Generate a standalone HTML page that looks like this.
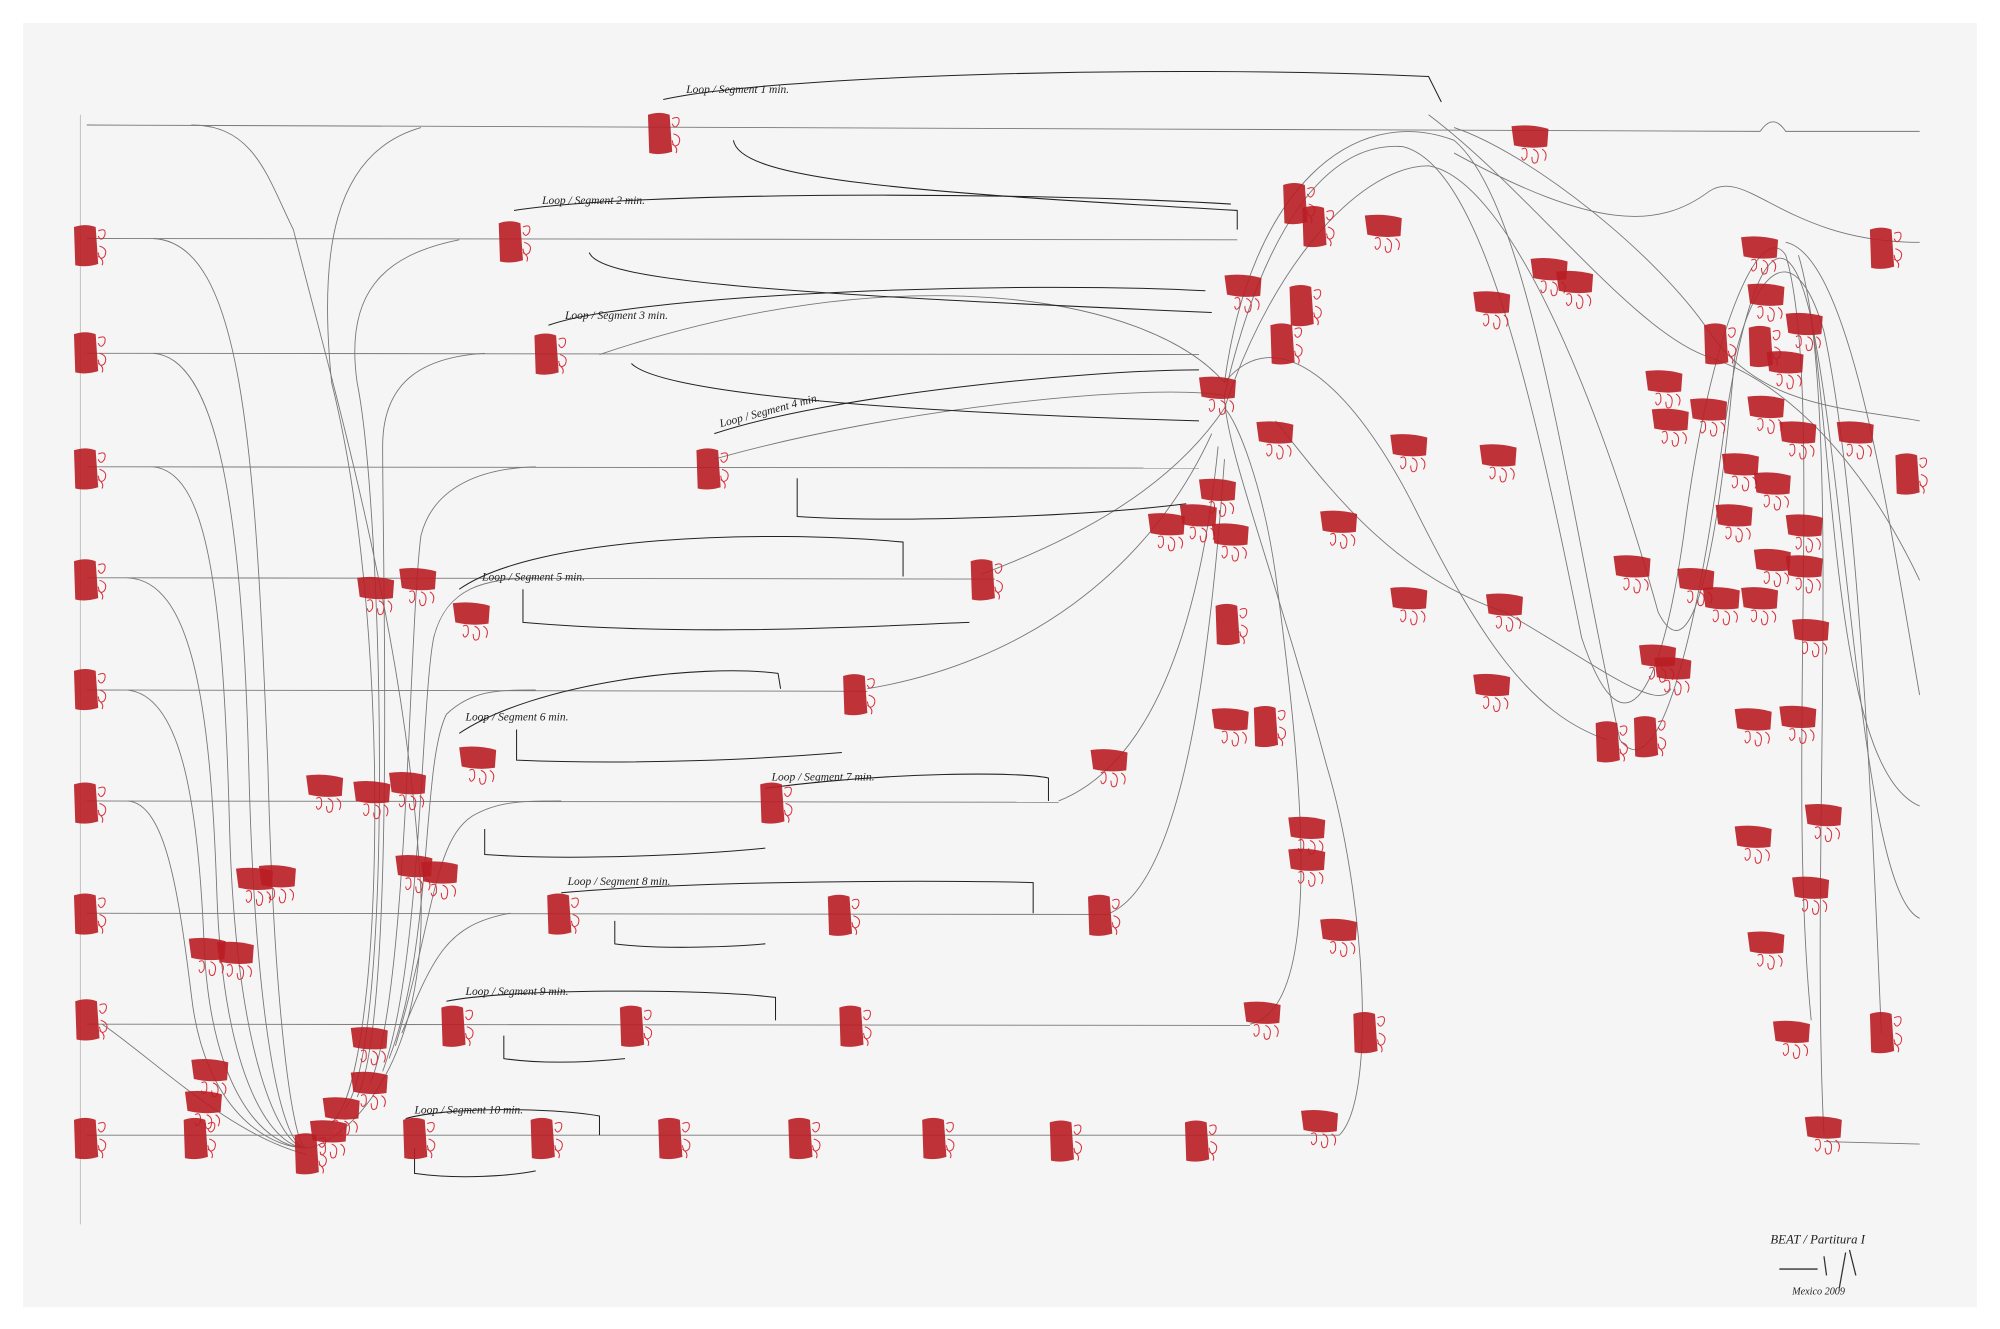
<!DOCTYPE html>
<html><head><meta charset="utf-8"><style>
html,body{margin:0;padding:0;background:#fff;}
svg{display:block;}
text{font-family:"Liberation Serif",serif;font-style:italic;fill:#222;}
</style></head><body>
<svg width="2000" height="1329" viewBox="0 0 1568 1042" preserveAspectRatio="none" xmlns="http://www.w3.org/2000/svg">
<defs>
<g id="b"><path d="M-9,-15 Q0,-18 8,-15 L10,14 Q0,17 -8,15 Z" fill="#b91d24" opacity="0.9"/><path d="M10,-12 q7,-3 5,4 q-3,5 -5,0 M11,0 q7,2 4,8 q-4,4 -5,-3 M10,8 q5,3 3,7" stroke="#d8303a" fill="none" stroke-width="0.8"/></g>
<g id="h"><path d="M-15,-9 Q0,-11 14,-7 L13,7 Q0,9 -13,6 Z" fill="#b91d24" opacity="0.9"/><path d="M-7,9 q5,-3 4,6 q-3,5 -4,0 M2,9 q6,2 3,10 q-4,3 -4,-4 M9,9 q5,3 2,9" stroke="#d8303a" fill="none" stroke-width="0.8"/></g>
</defs>
<rect width="1568" height="1042" fill="#fff"/>
<rect x="18" y="18" width="1532" height="1007" fill="#f5f5f5"/>
<g stroke="#777" stroke-width="0.7" fill="none">
<line x1="68" y1="98" x2="1380" y2="103"/><path d="M1380,103 q10,-15 20,0 L1505,103"/>
<line x1="68" y1="187" x2="970" y2="188"/>
<line x1="68" y1="277" x2="940" y2="278"/>
<line x1="68" y1="366" x2="940" y2="367"/>
<line x1="68" y1="453" x2="780" y2="454"/>
<line x1="68" y1="541" x2="680" y2="542"/>
<line x1="68" y1="628" x2="830" y2="629"/>
<line x1="68" y1="716" x2="870" y2="717"/>
<line x1="68" y1="803" x2="980" y2="804"/>
<line x1="68" y1="890" x2="1050" y2="890"/><line x1="1430" y1="895" x2="1505" y2="897"/>
<line x1="63" y1="90" x2="63" y2="960" stroke="#bbb"/>
<path d="M150,98 C200,98 210,140 230,180 C260,300 320,500 330,700 C335,850 260,900 240,900"/>
<path d="M120,187 C190,190 200,350 210,600 C215,800 230,900 240,900"/>
<path d="M120,277 C170,280 190,400 195,600 C200,800 220,900 240,900"/>
<path d="M120,366 C160,370 175,450 180,650 C185,830 220,900 240,900"/>
<path d="M100,453 C150,455 165,550 170,700 C175,850 215,900 240,900"/>
<path d="M100,541 C140,545 155,620 160,740 C165,860 210,900 240,900"/>
<path d="M100,628 C130,630 140,700 150,780 C160,870 210,900 240,900"/>
<path d="M80,803 C120,830 180,890 240,905"/>
<path d="M260,880 C300,850 310,500 260,300 C250,200 260,120 330,100"/>
<path d="M270,870 C310,820 300,400 280,300 C270,230 300,200 360,188"/>
<path d="M280,860 C310,800 300,450 300,350 C300,300 330,280 380,277"/>
<path d="M290,850 C320,780 320,500 330,420 C340,380 380,367 420,366"/>
<path d="M300,840 C330,760 330,550 340,500 C350,460 380,454 420,453"/>
<path d="M305,830 C340,740 330,600 350,560 C370,541 390,541 420,541"/>
<path d="M310,820 C340,720 340,660 370,640 C390,628 410,628 440,628"/>
<path d="M315,810 C340,750 350,725 400,716"/>
<path d="M470,278 C700,200 900,230 960,300"/>
<path d="M560,360 C700,320 900,300 960,310"/>
<path d="M770,450 C850,420 920,380 960,320"/>
<path d="M680,540 C800,520 900,450 950,340"/>
<path d="M830,628 C900,600 940,500 955,350"/>
<path d="M870,716 C930,690 950,500 960,360"/>
<path d="M980,803 C1040,790 1020,600 1000,450 C990,380 970,330 960,320"/>
<path d="M1050,890 C1080,860 1070,700 1040,600 C1000,450 960,350 960,310"/>
<path d="M960,300 C980,150 1060,80 1140,110 C1200,160 1230,400 1270,580 C1300,620 1330,500 1350,350 C1370,200 1400,160 1420,250 C1440,400 1420,700 1430,890"/>
<path d="M960,310 C990,180 1040,110 1100,115 C1160,130 1200,300 1240,500 C1270,590 1300,560 1320,420 C1340,260 1380,170 1400,200 C1430,300 1400,600 1420,800"/>
<path d="M960,320 C1000,200 1070,130 1120,130 C1180,140 1250,300 1300,480 C1330,540 1350,400 1360,280 C1380,200 1410,190 1430,260 C1460,400 1470,700 1475,810"/>
<path d="M960,300 C1000,250 1060,300 1110,400 C1160,500 1200,560 1260,580"/>
<path d="M1000,330 C1040,380 1090,450 1180,480 C1250,520 1300,560 1310,540"/>
<path d="M1140,100 C1200,120 1300,200 1340,260 C1380,320 1450,320 1505,330"/>
<path d="M1120,90 C1200,150 1280,260 1340,280 C1400,300 1460,360 1505,455"/>
<path d="M1140,120 C1250,180 1300,180 1340,150 C1370,130 1400,190 1505,190"/>
<path d="M1400,190 C1450,200 1480,400 1505,545"/>
<path d="M1410,200 C1440,300 1430,600 1505,632"/>
<path d="M1420,250 C1450,400 1460,700 1505,720"/>
<g stroke="#222" stroke-width="0.8">
<path d="M520,78 C600,60 900,50 1120,60 L1130,80"/>
<path d="M575,110 C580,140 700,150 970,165 L970,180"/>
<path d="M403,165 C500,150 800,150 965,160"/>
<path d="M462,198 C470,220 600,230 950,245"/>
<path d="M430,255 C500,230 800,220 945,228"/>
<path d="M495,285 C510,300 600,320 940,330"/>
<path d="M560,340 C650,310 850,290 940,290"/>
<path d="M625,375 L625,405 C700,410 850,405 930,395"/>
<path d="M360,462 C420,420 600,415 708,425 L708,452"/>
<path d="M410,462 L410,488 C550,500 700,490 760,488"/>
<path d="M360,575 C420,535 550,520 610,528 L612,540"/>
<path d="M405,572 L405,596 C500,600 600,595 660,590"/>
<path d="M600,618 C700,605 800,605 822,610 L822,628"/>
<path d="M380,650 L380,670 C450,675 550,670 600,665"/>
<path d="M440,700 C550,690 750,690 810,692 L810,716"/>
<path d="M482,722 L482,740 C520,745 580,742 600,740"/>
<path d="M350,785 C400,775 550,775 608,782 L608,800"/>
<path d="M395,812 L395,830 C430,835 470,832 490,830"/>
<path d="M318,877 C350,868 430,868 470,875 L470,890"/>
<path d="M325,900 L325,920 C360,925 400,922 420,918"/>
</g>
</g>
<g font-size="9">
<text x="538" y="73">Loop / Segment 1 min.</text>
<text x="425" y="160">Loop / Segment 2 min.</text>
<text x="443" y="250">Loop / Segment 3 min.</text>
<text x="565" y="335" transform="rotate(-15 565 335)">Loop / Segment 4 min.</text>
<text x="378" y="455">Loop / Segment 5 min.</text>
<text x="365" y="565">Loop / Segment 6 min.</text>
<text x="605" y="612">Loop / Segment 7 min.</text>
<text x="445" y="694">Loop / Segment 8 min.</text>
<text x="365" y="780">Loop / Segment 9 min.</text>
<text x="325" y="873">Loop / Segment 10 min.</text>
<text x="1388" y="975" font-size="10">BEAT / Partitura I</text>
<text x="1405" y="1015" font-size="8">Mexico 2009</text>
</g>
<path d="M1395,995 l30,0 m5,-10 l2,15 m15,-18 l-5,28 m8,-30 l5,20" stroke="#333" fill="none"/>
<g>
<use href="#b" x="67" y="193"/><use href="#b" x="67" y="277"/><use href="#b" x="67" y="368"/><use href="#b" x="67" y="455"/><use href="#b" x="67" y="541"/><use href="#b" x="67" y="630"/><use href="#b" x="67" y="717"/><use href="#b" x="68" y="800"/><use href="#b" x="67" y="893"/>
<use href="#b" x="517" y="105"/><use href="#h" x="1200" y="108"/>
<use href="#b" x="400" y="190"/><use href="#b" x="1015" y="160"/><use href="#b" x="1030" y="178"/><use href="#h" x="1085" y="178"/><use href="#h" x="1215" y="212"/><use href="#h" x="1235" y="222"/><use href="#h" x="1170" y="238"/>
<use href="#b" x="428" y="278"/><use href="#h" x="975" y="225"/><use href="#b" x="1020" y="240"/><use href="#b" x="1005" y="270"/><use href="#h" x="955" y="305"/><use href="#h" x="1000" y="340"/><use href="#h" x="1105" y="350"/><use href="#h" x="1175" y="358"/><use href="#h" x="1050" y="410"/>
<use href="#b" x="555" y="368"/><use href="#h" x="955" y="385"/><use href="#h" x="940" y="405"/><use href="#h" x="915" y="412"/><use href="#h" x="965" y="420"/><use href="#b" x="770" y="455"/><use href="#h" x="1105" y="470"/><use href="#h" x="1180" y="475"/>
<use href="#h" x="295" y="462"/><use href="#h" x="328" y="455"/><use href="#h" x="370" y="482"/><use href="#b" x="962" y="490"/><use href="#h" x="1170" y="538"/><use href="#b" x="1260" y="582"/><use href="#b" x="1290" y="578"/>
<use href="#b" x="670" y="545"/><use href="#h" x="375" y="595"/><use href="#h" x="870" y="597"/><use href="#h" x="965" y="565"/><use href="#b" x="992" y="570"/><use href="#h" x="1025" y="650"/><use href="#h" x="1025" y="675"/><use href="#h" x="1050" y="730"/>
<use href="#h" x="255" y="617"/><use href="#h" x="292" y="622"/><use href="#h" x="320" y="615"/><use href="#b" x="605" y="630"/><use href="#h" x="1280" y="445"/><use href="#h" x="1330" y="455"/><use href="#h" x="1350" y="470"/><use href="#h" x="1380" y="470"/><use href="#h" x="1300" y="515"/><use href="#h" x="1312" y="525"/>
<use href="#h" x="200" y="690"/><use href="#h" x="218" y="688"/><use href="#h" x="163" y="745"/><use href="#h" x="185" y="748"/><use href="#b" x="438" y="717"/><use href="#b" x="658" y="718"/><use href="#b" x="862" y="718"/><use href="#h" x="325" y="680"/><use href="#h" x="345" y="685"/>
<use href="#h" x="165" y="840"/><use href="#h" x="160" y="865"/><use href="#h" x="290" y="815"/><use href="#b" x="355" y="805"/><use href="#b" x="495" y="805"/><use href="#b" x="667" y="805"/><use href="#h" x="990" y="795"/><use href="#b" x="1070" y="810"/>
<use href="#b" x="153" y="893"/><use href="#b" x="240" y="905"/><use href="#h" x="258" y="888"/><use href="#h" x="268" y="870"/><use href="#h" x="290" y="850"/><use href="#b" x="325" y="893"/><use href="#b" x="425" y="893"/><use href="#b" x="525" y="893"/><use href="#b" x="627" y="893"/><use href="#b" x="732" y="893"/><use href="#b" x="832" y="895"/><use href="#b" x="938" y="895"/><use href="#h" x="1035" y="880"/><use href="#h" x="1430" y="885"/>
<use href="#h" x="1380" y="195"/><use href="#b" x="1475" y="195"/><use href="#h" x="1385" y="232"/><use href="#h" x="1415" y="255"/><use href="#b" x="1345" y="270"/><use href="#b" x="1380" y="272"/><use href="#h" x="1400" y="285"/><use href="#h" x="1305" y="300"/><use href="#h" x="1310" y="330"/><use href="#h" x="1340" y="322"/><use href="#h" x="1385" y="320"/><use href="#h" x="1410" y="340"/><use href="#h" x="1455" y="340"/><use href="#b" x="1495" y="372"/><use href="#h" x="1365" y="365"/><use href="#h" x="1390" y="380"/><use href="#h" x="1360" y="405"/><use href="#h" x="1415" y="413"/><use href="#h" x="1390" y="440"/><use href="#h" x="1415" y="445"/><use href="#h" x="1420" y="495"/><use href="#h" x="1375" y="565"/><use href="#h" x="1410" y="563"/><use href="#h" x="1430" y="640"/><use href="#h" x="1375" y="657"/><use href="#h" x="1420" y="697"/><use href="#h" x="1385" y="740"/><use href="#h" x="1405" y="810"/><use href="#b" x="1475" y="810"/>
</g>
</svg>
</body></html>
